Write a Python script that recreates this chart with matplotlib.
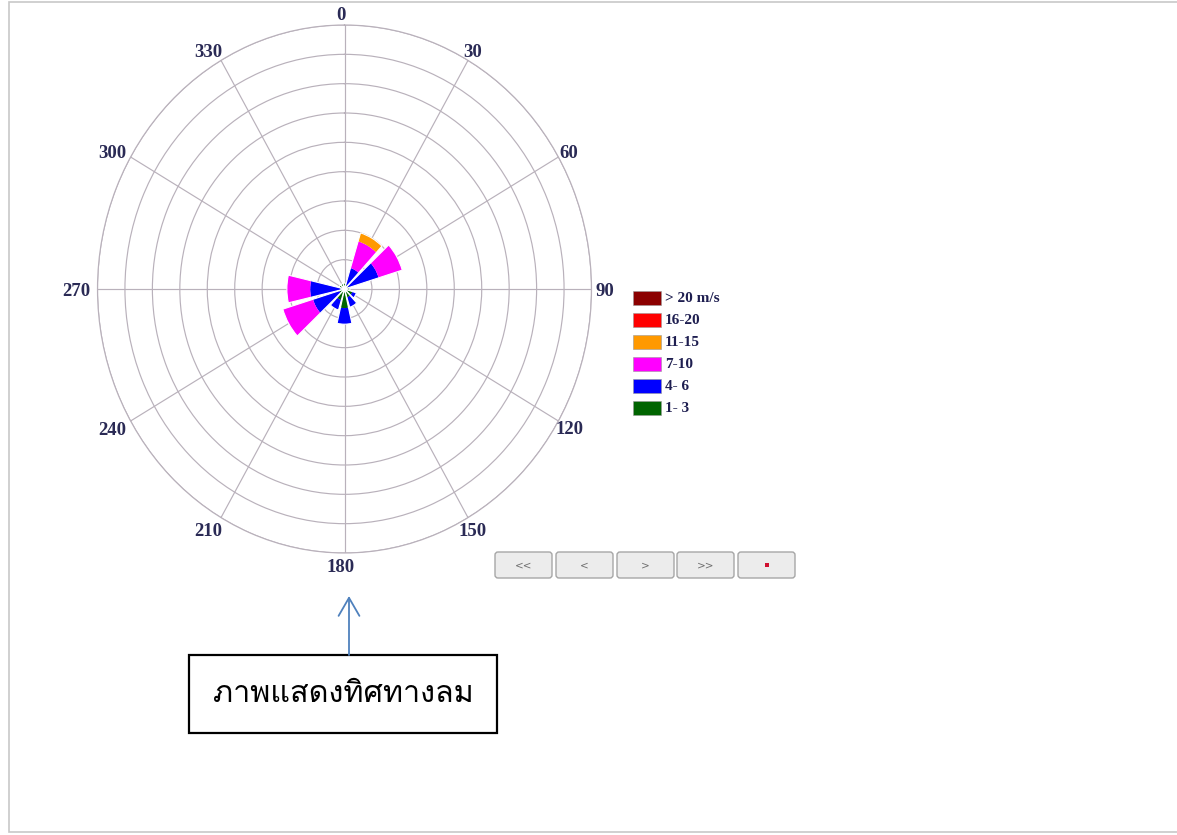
import numpy as np
import matplotlib
matplotlib.use('Agg')
import matplotlib.pyplot as plt
from matplotlib.patches import FancyBboxPatch, Rectangle
from matplotlib import font_manager
from matplotlib.ft2font import FT2Font
from matplotlib.transforms import offset_copy

# ---------------- data ----------------
directions = [0, 30, 60, 90, 120, 150, 180, 210, 240, 270, 300, 330]
angle_labels = ['0', '30', '60', '90', '120', '150', '180', '210', '240', '270', '300', '330']
speed_1_3 = [0.2, 0.15, 0.15, 0.2, 0.3, 0.3, 0.65, 0.4, 0.2, 0.15, 0.2, 0.2]
speed_4_6 = [0.0, 0.6, 1.15, 0.0, 0.15, 0.35, 0.55, 0.35, 1.0, 1.1, 0.0, 0.0]
speed_7_10 = [0.0, 0.95, 0.9, 0.0, 0.0, 0.0, 0.0, 0.0, 1.15, 0.85, 0.0, 0.0]
speed_11_15 = [0.0, 0.3, 0.0, 0.0, 0.0, 0.0, 0.0, 0.0, 0.0, 0.0, 0.0, 0.0]
speed_16_20 = [0.0] * 12
speed_gt20 = [0.0] * 12
series_names = ['1- 3', '4- 6', '7-10', '11-15', '16-20', '> 20 m/s']
series_colors = ['#006400', '#0000ff', '#ff00ff', '#ff9900', '#ff0000', '#8b0000']
ring_values = [1, 2, 3, 4, 5, 6, 7, 8, 9]
button_labels = ['<<', '<', '>', '>>', '']
caption = 'ภาพแสดงทิศทางลม'

# ------------- thai font -------------
thai_font = None
for f in font_manager.fontManager.ttflist:
    try:
        cmap = FT2Font(f.fname).get_charmap()
        if ord('ภ') in cmap and ord('ศ') in cmap:
            thai_font = f.name
            if 'Sans' in f.name or 'Loma' in f.name or 'Garuda' in f.name:
                break
    except Exception:
        pass
caption_family = [thai_font, 'DejaVu Sans'] if thai_font else ['DejaVu Sans']

W, H = 1177, 835
fig = plt.figure(figsize=(W / 100, H / 100), dpi=100)
fig.patch.set_facecolor('white')
bg = fig.add_axes([0, 0, 1, 1], zorder=0)
bg.set_xlim(0, W)
bg.set_ylim(H, 0)
bg.axis('off')

# page frame
bg.add_patch(Rectangle((9, 2), W - 8, H - 5, fill=False, ec='#c8c8c8', lw=1.2))

cx, cy, rx, ry = 344.5, 289, 247, 264
ax = fig.add_axes([(cx - rx) / W, (H - cy - ry) / H, 2 * rx / W, 2 * ry / H],
                  projection='polar', zorder=2)
ax.set_aspect('auto')
ax.patch.set_alpha(0)
ax.set_theta_zero_location('N')
ax.set_theta_direction(-1)
rmax = ring_values[-1]
ax.set_ylim(0, rmax)
ax.set_yticks(ring_values)
ax.set_yticklabels([])
ax.set_xticks(np.deg2rad(directions))
ax.set_xticklabels([])
ax.tick_params(length=0)
grid_col = '#b9b1bb'
ax.grid(True, color=grid_col, linewidth=0.85)
ax.spines['polar'].set_color(grid_col)
ax.spines['polar'].set_linewidth(0.85)
ax.set_axisbelow(True)

theta = np.deg2rad(directions)
width = np.deg2rad(26)
stack = [speed_1_3, speed_4_6, speed_7_10, speed_11_15, speed_16_20, speed_gt20]
bottom = np.zeros(len(directions))
for vals, col in zip(stack, series_colors):
    vals = np.array(vals)
    ax.bar(theta, vals, width=width, bottom=bottom, color=col,
           edgecolor='none', linewidth=0, zorder=3)
    bottom = bottom + vals
# thin white separators between bars
ax.bar(theta, bottom, width=width, bottom=0, color='none', edgecolor='white',
       linewidth=0.8, zorder=4)

# angle labels just outside the outer ring
for d, lab in zip(directions, angle_labels):
    t = np.deg2rad(d)
    tr = offset_copy(ax.transData, fig=fig,
                     x=17 * np.sin(t) - 4, y=12 * np.cos(t) - 3, units='dots')
    ax.text(t, rmax, lab, ha='center', va='center',
            fontsize=13.5, fontweight='bold', family='Liberation Serif',
            color='#2a2a55', clip_on=False, transform=tr)

# legend (drawn top to bottom: > 20 ... 1- 3)
ly0, ldy = 298, 22
for i, (name, col) in enumerate(zip(series_names[::-1], series_colors[::-1])):
    y = ly0 + i * ldy
    bg.add_patch(Rectangle((633, y - 7), 28, 14, fc=col, ec='#999999', lw=0.4))
    bg.text(665, y, name, ha='left', va='center', fontsize=11,
            fontweight='bold', family='Liberation Serif', color='#1e1e50')

# buttons
bx = [495, 556, 617, 677, 738]
for x0, lab in zip(bx, button_labels):
    bg.add_patch(FancyBboxPatch((x0, 552), 57, 26,
                                boxstyle='round,pad=0,rounding_size=3',
                                fc='#ececec', ec='#a6a6a6', lw=1))
    if lab:
        bg.text(x0 + 28.5, 565.5, lab, ha='center', va='center', fontsize=7.5,
                color='#707070', family='DejaVu Sans')
bg.add_patch(Rectangle((764.5, 563), 4, 4, fc='#d01030', ec='none'))

# annotation arrow and caption box
bg.annotate('', xy=(349, 596), xytext=(349, 655),
            arrowprops=dict(arrowstyle='->,head_length=1.3,head_width=0.75',
                            color='#4f81bd', lw=1.3, shrinkA=0, shrinkB=0))
bg.add_patch(Rectangle((189, 655), 308, 78, fc='white', ec='black', lw=1.6))
bg.text(343, 694, caption, ha='center', va='center', fontsize=22,
        family=caption_family, color='black')

fig.savefig('out.png', dpi=100, facecolor='white')
